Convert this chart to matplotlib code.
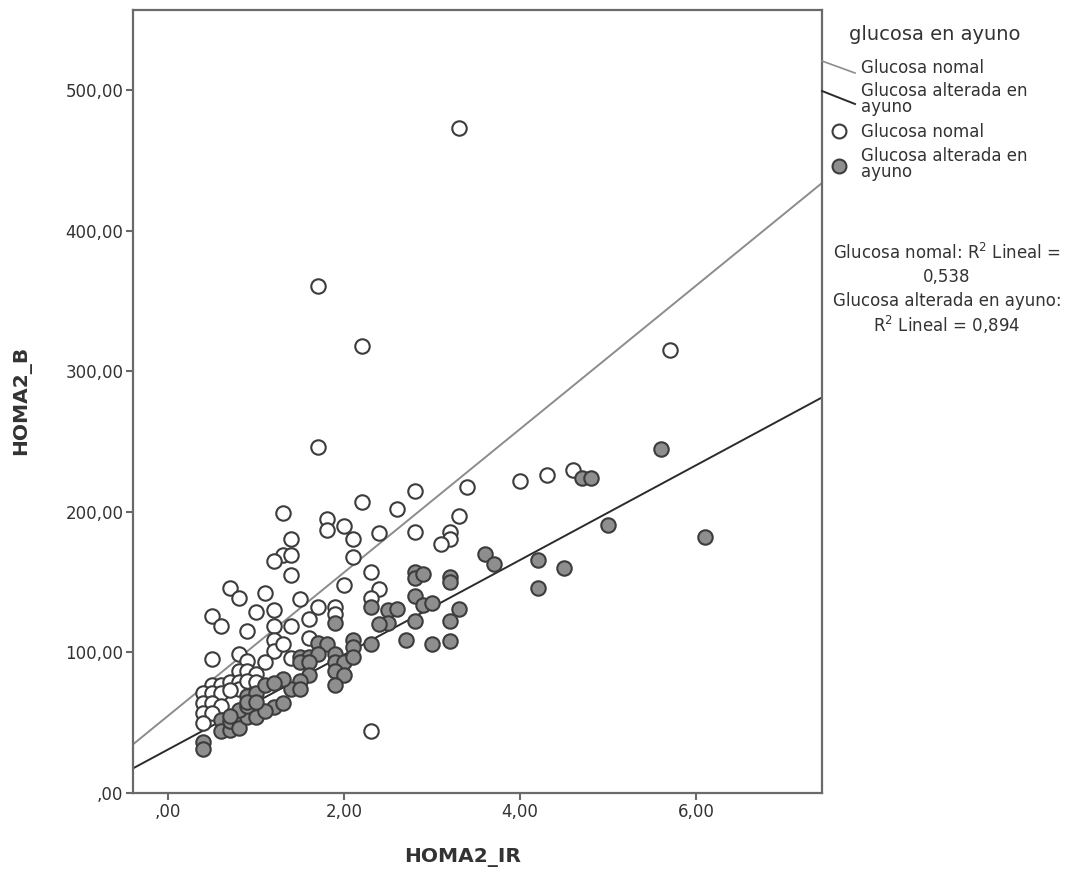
import numpy as np
import matplotlib.pyplot as plt
from matplotlib.lines import Line2D

# ---- data: HOMA2_IR vs HOMA2_B by fasting glucose group ----
nomal_ir = [3.3, 1.7, 2.2, 1.7, 5.7,
            4.0, 4.3, 4.6, 3.4, 2.8, 2.6, 3.3, 2.8, 3.2, 3.2, 3.1, 2.4, 2.4,
            2.2, 1.8, 1.8, 2.0, 2.1, 2.1, 2.3, 2.0, 2.3, 1.7, 1.9, 1.9, 1.6, 1.5, 1.6,
            1.3, 1.4, 1.3, 1.4, 1.2, 1.4, 0.7, 0.8, 1.1, 1.0, 1.2, 0.5, 0.6, 0.9, 1.2, 1.4,
            2.3, 0.5, 0.8, 0.9, 1.2, 1.2, 1.3, 1.4, 1.1, 0.8, 0.9, 1.0,
            0.5, 0.6, 0.7, 0.4, 0.5, 0.6, 0.8, 0.8, 0.9, 1.0, 0.4, 0.5, 0.6,
            0.4, 0.5, 0.4, 0.7]
nomal_b = [473, 361, 318, 246, 315,
           222, 226, 230, 218, 215, 202, 197, 186, 186, 181, 177, 185, 145,
           207, 195, 187, 190, 181, 168, 157, 148, 139, 132, 132, 127, 124, 138, 110,
           199, 181, 169, 169, 165, 155, 146, 139, 142, 129, 130, 126, 119, 115, 119, 119,
           44, 95, 99, 94, 109, 101, 106, 96, 93, 87, 87, 85,
           77, 77, 79, 71, 71, 71, 79, 74, 80, 79, 64, 64, 62,
           57, 57, 50, 73]

alterada_ir = [5.6, 6.1, 5.0, 4.7, 4.8, 3.6, 3.7, 4.2, 4.5, 4.2,
               2.8, 2.8, 2.9, 3.2, 3.2, 2.8, 2.9, 3.0, 3.3, 2.5, 2.6, 2.5, 2.4, 2.8, 3.2,
               2.7, 3.0, 3.2,
               2.3, 1.9, 1.7, 1.8, 2.1, 2.1, 2.3,
               1.5, 1.6, 1.7, 1.5, 1.6, 1.9, 1.9, 2.0, 2.1, 1.9, 2.0, 1.6, 1.9, 1.5,
               1.4, 1.5, 1.3, 1.2, 1.3,
               0.4, 0.4, 0.6, 0.6, 0.7, 0.7, 0.8, 0.8, 0.9, 0.8, 0.9, 1.0, 1.1,
               0.9, 1.0, 0.9, 1.1, 1.2, 0.7, 1.0]
alterada_b = [245, 182, 191, 224, 224, 170, 163, 166, 160, 146,
              157, 153, 156, 154, 150, 140, 134, 135, 131, 130, 131, 121, 120, 122, 122,
              109, 106, 108,
              132, 121, 107, 106, 109, 104, 106,
              97, 97, 99, 93, 93, 99, 93, 93, 97, 87, 84, 84, 77, 80,
              74, 74, 81, 61, 64,
              36, 31, 52, 44, 45, 51, 51, 46, 54, 59, 62, 54, 58,
              69, 71, 65, 77, 78, 55, 65]

# linear fit lines (intercept, slope)
fit_nomal = (55.0, 51.0)
fit_alterada = (31.0, 33.7)

x_ticks = [0, 2, 4, 6]
x_ticklabels = [",00", "2,00", "4,00", "6,00"]
y_ticks = [0, 100, 200, 300, 400, 500]
y_ticklabels = [",00", "100,00", "200,00", "300,00", "400,00", "500,00"]

W, H = 1080, 872
TXT = "#333333"
AXC = "#6a6a6a"

fig = plt.figure(figsize=(W / 100, H / 100), dpi=100)
ax = fig.add_axes([133 / W, 1 - 793 / H, (822 - 133) / W, (793 - 10) / H])

xlim = (-0.40, 7.43)
ax.set_xlim(*xlim)
ax.set_ylim(0, 557)

# regression lines
xx = np.array(xlim)
ax.plot(xx, fit_nomal[0] + fit_nomal[1] * xx, color="#8c8c8c", lw=1.4, zorder=2)
ax.plot(xx, fit_alterada[0] + fit_alterada[1] * xx, color="#2b2b2b", lw=1.4, zorder=2)

# scatter points
ax.scatter(nomal_ir, nomal_b, s=108, facecolor="white", edgecolor="#3c3c3c",
           linewidth=1.5, zorder=3)
ax.scatter(alterada_ir, alterada_b, s=108, facecolor="#8e8e8e", edgecolor="#3c3c3c",
           linewidth=1.5, zorder=4)

ax.set_xticks(x_ticks)
ax.set_xticklabels(x_ticklabels)
ax.set_yticks(y_ticks)
ax.set_yticklabels(y_ticklabels)
ax.tick_params(length=5, width=1.5, color=AXC, labelsize=12, labelcolor=TXT, pad=2)
for sp in ax.spines.values():
    sp.set_color(AXC)
    sp.set_linewidth(1.6)

fig.text(463 / W, 1 - 857 / H, "HOMA2_IR", ha="center", va="center",
         fontsize=14.5, fontweight="bold", color=TXT)
fig.text(22 / W, 1 - 400 / H, "HOMA2_B", ha="center", va="center", rotation=90,
         fontsize=14.5, fontweight="bold", color=TXT)


def fx(px):
    return px / W


def fy(py):
    return 1 - py / H


# legend, drawn beside the plot area
fig.text(fx(935), fy(35), "glucosa en ayuno", ha="center", va="center",
         fontsize=14, color=TXT)
fig.add_artist(Line2D([fx(822), fx(855)], [fy(61), fy(73)], color="#8c8c8c", lw=1.2))
fig.text(fx(861), fy(68), "Glucosa nomal", ha="left", va="center", fontsize=12, color=TXT)
fig.add_artist(Line2D([fx(822), fx(855)], [fy(91), fy(104)], color="#2b2b2b", lw=1.4))
fig.text(fx(861), fy(99), "Glucosa alterada en\nayuno", ha="left", va="center",
         fontsize=12, color=TXT, linespacing=0.85)
fig.add_artist(Line2D([fx(839)], [fy(131)], marker="o", markersize=10,
                      markerfacecolor="white", markeredgecolor="#3c3c3c", mew=1.5))
fig.text(fx(861), fy(132), "Glucosa nomal", ha="left", va="center", fontsize=12, color=TXT)
fig.add_artist(Line2D([fx(839)], [fy(166)], marker="o", markersize=10,
                      markerfacecolor="#8e8e8e", markeredgecolor="#3c3c3c", mew=1.5))
fig.text(fx(861), fy(164), "Glucosa alterada en\nayuno", ha="left", va="center",
         fontsize=12, color=TXT, linespacing=0.85)

r2_lines = ["Glucosa nomal: R$^2$ Lineal =", "0,538",
            "Glucosa alterada en ayuno:", "R$^2$ Lineal = 0,894"]
for i, s in enumerate(r2_lines):
    fig.text(fx(947), fy(253 + 24 * i), s, ha="center", va="center",
             fontsize=12, color=TXT)

fig.savefig("out.png", dpi=100)
